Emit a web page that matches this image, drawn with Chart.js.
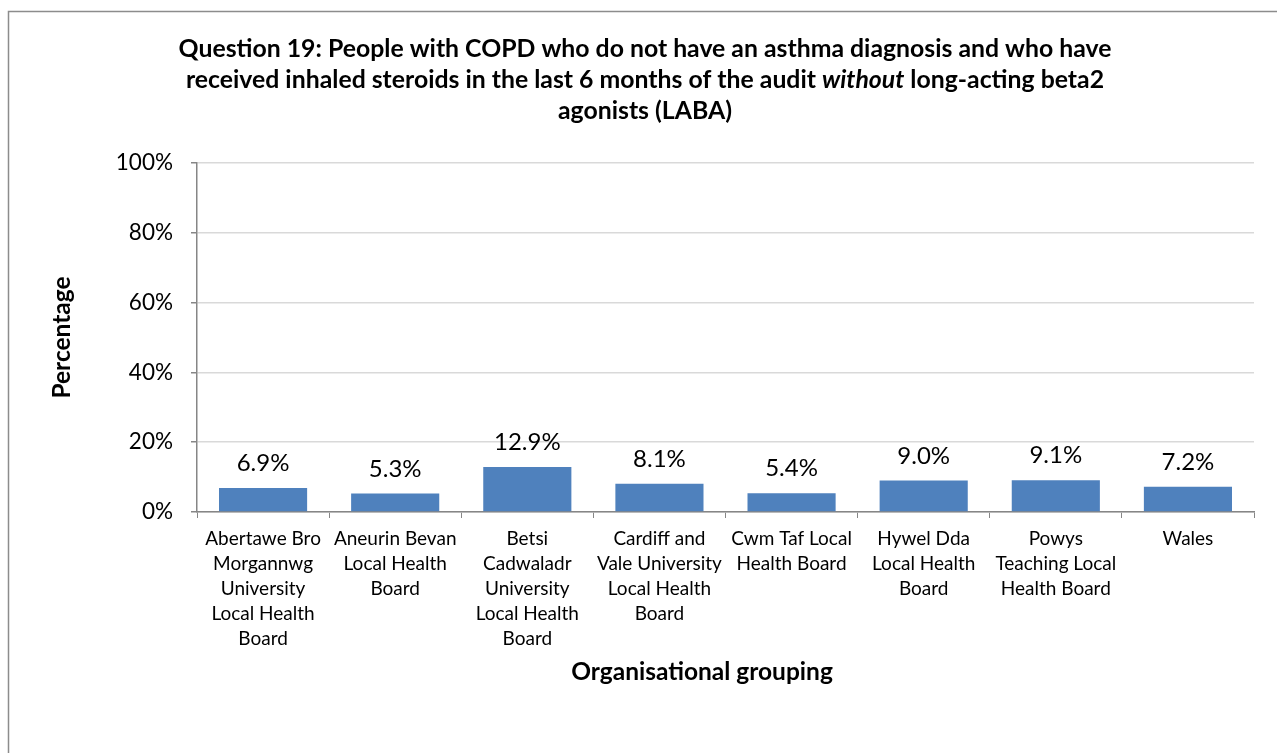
<!DOCTYPE html>
<html>
<head>
<meta charset="utf-8">
<script src="https://cdn.jsdelivr.net/npm/chart.js@4.4.0/dist/chart.umd.min.js"></script>
<style>
html,body{margin:0;padding:0;background:#fff;}
#wrap{width:1277px;height:753px;position:relative;}
</style>
</head>
<body>
<div id="wrap"><canvas id="c" width="1277" height="753"></canvas></div>
<script>
const categories = [
  ["Abertawe Bro","Morgannwg","University","Local Health","Board"],
  ["Aneurin Bevan","Local Health","Board"],
  ["Betsi","Cadwaladr","University","Local Health","Board"],
  ["Cardiff and","Vale University","Local Health","Board"],
  ["Cwm Taf Local","Health Board"],
  ["Hywel Dda","Local Health","Board"],
  ["Powys","Teaching Local","Health Board"],
  ["Wales"]
];
const values = [6.9, 5.3, 12.9, 8.1, 5.4, 9.0, 9.1, 7.2];
const yTicks = [0, 20, 40, 60, 80, 100];
const titleLines = [
  [["Question 19: People with COPD who do not have an asthma diagnosis and who have", false]],
  [["received inhaled steroids in the last 6 months of the audit ", false], ["without", true], [" long-acting beta2", false]],
  [["agonists (LABA)", false]]
];
const yTitle = "Percentage";
const xTitle = "Organisational grouping";

const FONT = "Lato, 'Open Sans', sans-serif";

const decor = {
  id: 'decor',
  beforeDraw(chart) {
    const ctx = chart.ctx;
    ctx.save();
    ctx.fillStyle = '#fff';
    ctx.fillRect(0, 0, chart.width, chart.height);
    ctx.strokeStyle = '#8c8c8c';
    ctx.lineWidth = 1.5;
    ctx.strokeRect(8.5, 11.5, 1400, 900);
    ctx.restore();
  },
  afterDraw(chart) {
    const ctx = chart.ctx;
    const ca = chart.chartArea;
    ctx.save();
    // title
    const tf = (it) => (it ? 'italic ' : '') + 'bold 24.8px ' + FONT;
    const cx = 645;
    const ys = [57, 88, 119];
    ctx.fillStyle = '#000';
    ctx.textBaseline = 'alphabetic';
    ctx.textAlign = 'left';
    titleLines.forEach((segs, i) => {
      let total = 0;
      segs.forEach(s => { ctx.font = tf(s[1]); total += ctx.measureText(s[0]).width; });
      let x = cx - total / 2;
      segs.forEach(s => { ctx.font = tf(s[1]); ctx.fillText(s[0], x, ys[i]); x += ctx.measureText(s[0]).width; });
    });
    // axis titles
    ctx.font = 'bold 24.5px ' + FONT;
    ctx.textAlign = 'center';
    ctx.textBaseline = 'middle';
    ctx.fillText(xTitle, 702, 672);
    ctx.save();
    ctx.translate(62, (ca.top + ca.bottom) / 2);
    ctx.rotate(-Math.PI / 2);
    ctx.fillText(yTitle, 0, 0);
    ctx.restore();
    // data labels
    ctx.font = '24px ' + FONT;
    ctx.textBaseline = 'alphabetic';
    const meta = chart.getDatasetMeta(0);
    meta.data.forEach((bar, i) => {
      ctx.fillText(values[i].toFixed(1) + '%', bar.x, bar.y - 17);
    });
    ctx.restore();
  }
};

new Chart(document.getElementById('c'), {
  type: 'bar',
  data: {
    labels: categories,
    datasets: [{
      data: values,
      backgroundColor: '#4f81bd',
      borderWidth: 0,
      categoryPercentage: 1.0,
      barPercentage: 0.667
    }]
  },
  options: {
    responsive: false,
    animation: false,
    events: [],
    layout: { padding: { left: 0, right: 23, top: 163, bottom: 0 } },
    plugins: { legend: { display: false }, title: { display: false }, tooltip: { enabled: false } },
    scales: {
      x: {
        grid: { drawOnChartArea: false, drawTicks: true, tickLength: 6, color: '#868686', offset: true },
        border: { display: true, color: '#868686', width: 1.5 },
        ticks: { color: '#000', font: { family: FONT, size: 19, lineHeight: 25/19 }, padding: 8, maxRotation: 0, autoSkip: false },
        afterFit(s) { s.height = 753 - 512; }
      },
      y: {
        min: 0, max: 100,
        afterBuildTicks(s) { s.ticks = yTicks.map(v => ({ value: v })); },
        grid: { color: '#d9d9d9', lineWidth: 1.5, tickColor: '#868686', tickLength: 6 },
        border: { display: true, color: '#868686', width: 1.5 },
        ticks: { color: '#000', font: { family: FONT, size: 22.5 }, padding: 18, callback: v => v + '%' },
        afterFit(s) { s.width = 197; }
      }
    }
  },
  plugins: [decor]
});
</script>
</body>
</html>
